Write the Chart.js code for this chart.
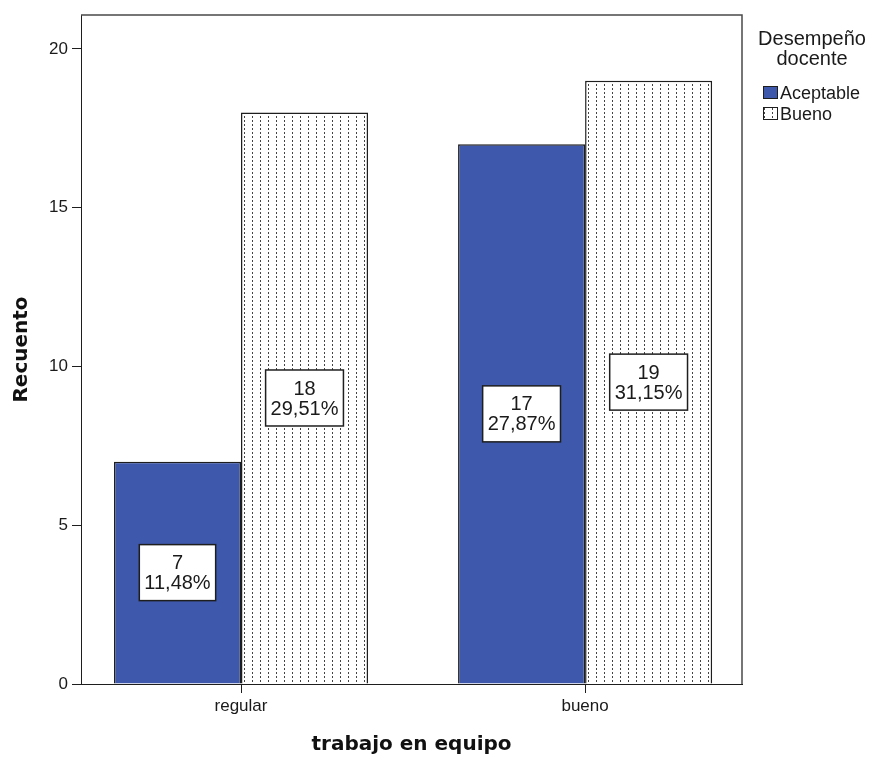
<!DOCTYPE html>
<html>
<head>
<meta charset="utf-8">
<script src="https://cdn.jsdelivr.net/npm/chart.js@4.4.1/dist/chart.umd.min.js"></script>
<style>
  html, body { margin: 0; padding: 0; background: #fff; }
  #wrap { position: relative; width: 871px; height: 758px; }
</style>
</head>
<body>
<div id="wrap"><canvas id="myChart"></canvas></div>
<script>
// chart data
const categories = ['regular', 'bueno'];
const seriesNames = ['Aceptable', 'Bueno'];
const aceptableValues = [7, 17];
const buenoValues = [18, 19];
const yTicks = [0, 5, 10, 15, 20];
const legendTitle = ['Desempeño', 'docente'];
const xTitle = 'trabajo en equipo';
const yTitle = 'Recuento';

const totalCount = [...aceptableValues, ...buenoValues].reduce((a, b) => a + b, 0);

const textFont = "'Liberation Sans', Arial, sans-serif";
const ink = '#1a1a1a';
const edge = '#1e1e1e';
const blue = '#3e58ac';

const canvas = document.getElementById('myChart');

// dotted fill for the "Bueno" bars
const makeDots = () => {
  const c = document.createElement('canvas');
  c.width = 8; c.height = 4;
  const g = c.getContext('2d');
  g.fillStyle = '#fff';
  g.fillRect(0, 0, 8, 4);
  g.fillStyle = '#444';
  g.fillRect(4, 0, 1, 2);
  return canvas.getContext('2d').createPattern(c, 'repeat');
};
const dots = makeDots();

// top + right edges of the plot box
const frame = {
  id: 'frame',
  beforeDatasetsDraw(chart) {
    const {ctx, chartArea: {left, right, top, bottom}} = chart;
    ctx.save();
    ctx.strokeStyle = '#4a4a4a';
    ctx.lineWidth = 1.5;
    ctx.beginPath();
    ctx.moveTo(left, top);
    ctx.lineTo(right, top);
    ctx.lineTo(right, bottom);
    ctx.stroke();
    ctx.restore();
  }
};

// count + percent boxes in the middle of each bar
const valueBoxes = {
  id: 'valueBoxes',
  afterDatasetsDraw(chart) {
    const {ctx} = chart;
    ctx.save();
    ctx.font = `20px ${textFont}`;
    ctx.textAlign = 'center';
    ctx.textBaseline = 'middle';
    chart.data.datasets.forEach((ds, i) => {
      chart.getDatasetMeta(i).data.forEach((bar, j) => {
        const v = ds.data[j].y;
        const lines = [String(v), (v / totalCount * 100).toFixed(2).replace('.', ',') + '%'];
        const w = Math.max(...lines.map(t => ctx.measureText(t).width)) + 10;
        const h = 56;
        const cx = bar.x;
        const cy = (bar.y + bar.base) / 2;
        ctx.fillStyle = '#fff';
        ctx.fillRect(cx - w / 2, cy - h / 2, w, h);
        ctx.strokeStyle = edge;
        ctx.lineWidth = 1.5;
        ctx.strokeRect(cx - w / 2, cy - h / 2, w, h);
        ctx.fillStyle = ink;
        ctx.fillText(lines[0], cx, cy - 9);
        ctx.fillText(lines[1], cx, cy + 11);
      });
    });
    ctx.restore();
  }
};

// legend on the right, title on two lines
const sideLegend = {
  id: 'sideLegend',
  afterDraw(chart) {
    const {ctx} = chart;
    ctx.save();
    ctx.fillStyle = ink;
    ctx.font = `20px ${textFont}`;
    ctx.textAlign = 'center';
    ctx.textBaseline = 'alphabetic';
    legendTitle.forEach((t, i) => ctx.fillText(t, 812, 45 + i * 20));
    ctx.font = `18px ${textFont}`;
    ctx.textAlign = 'left';
    chart.data.datasets.forEach((ds, i) => {
      const y0 = 86 + i * 21;
      ctx.fillStyle = ds.backgroundColor;
      ctx.fillRect(763, y0, 14, 12);
      ctx.strokeStyle = edge;
      ctx.lineWidth = 1;
      ctx.strokeRect(763.5, y0 + 0.5, 14, 12);
      ctx.fillStyle = ink;
      ctx.fillText(ds.label, 780, y0 + 13);
    });
    ctx.restore();
  }
};

const data = {
  datasets: [
    {
      label: seriesNames[0],
      data: aceptableValues.map((v, i) => ({x: i, y: v})),
      backgroundColor: blue,
      borderColor: edge,
      borderWidth: 1.5
    },
    {
      label: seriesNames[1],
      data: buenoValues.map((v, i) => ({x: i, y: v})),
      backgroundColor: dots,
      borderColor: edge,
      borderWidth: 1.5
    }
  ]
};

const config = {
  type: 'bar',
  data,
  options: {
    responsive: true,
    maintainAspectRatio: false,
    animation: false,
    categoryPercentage: 0.7384,
    barPercentage: 1,
    layout: {
      padding: {left: 0, top: 15, right: 129, bottom: 0}
    },
    plugins: {
      legend: {display: false},
      tooltip: {enabled: false}
    },
    scales: {
      x: {
        type: 'linear',
        offset: false,
        min: -0.465,
        max: 1.456,
        afterBuildTicks: (s) => { s.ticks = categories.map((c, i) => ({value: i})); },
        afterFit: (s) => { s.height = 74; },
        grid: {offset: false, drawOnChartArea: false, drawTicks: true, tickLength: 9, tickColor: edge, tickWidth: 1},
        border: {display: true, color: edge, width: 1},
        ticks: {
          callback: (v) => categories[v],
          font: {family: textFont, size: 17},
          color: ink,
          padding: 3,
          maxRotation: 0,
          autoSkip: false
        },
        title: {
          display: true,
          text: xTitle,
          font: {family: "'DejaVu Sans'", size: 20, weight: 'bold'},
          color: '#111',
          padding: {top: 0, bottom: 1}
        }
      },
      y: {
        min: 0,
        max: 21.07,
        afterBuildTicks: (s) => { s.ticks = yTicks.map(v => ({value: v})); },
        afterFit: (s) => { s.width = 81; },
        grid: {drawOnChartArea: false, drawTicks: true, tickLength: 9, tickColor: edge, tickWidth: 1},
        border: {display: true, color: edge, width: 1},
        ticks: {
          font: {family: textFont, size: 17},
          color: ink,
          padding: 4
        },
        title: {
          display: true,
          text: yTitle,
          font: {family: "'DejaVu Sans'", size: 20, weight: 'bold'},
          color: '#111',
          padding: {top: 10, bottom: 0}
        }
      }
    }
  },
  plugins: [frame, valueBoxes, sideLegend]
};

const myChart = new Chart(canvas, config);
</script>
</body>
</html>
